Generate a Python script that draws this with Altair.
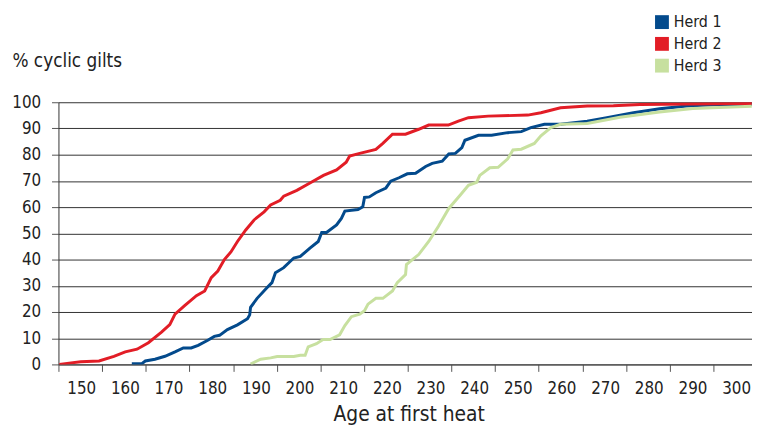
import altair as alt
import pandas as pd

herds = ["Herd 1", "Herd 2", "Herd 3"]
colors = ["#034a8c", "#e21d26", "#c7e09f"]

herd1_age = [166.8, 169.1, 169.9, 172.1, 174.4, 176.7, 178.6, 180.4, 182.0, 184.2, 185.7, 186.9,
             188.7, 191.0, 193.3, 193.8, 194.0, 195.5, 197.8, 198.9, 199.7, 201.6, 203.9, 205.4,
             207.6, 209.5, 210.3, 211.4, 213.7, 214.8, 215.6, 218.6, 219.7, 220.1, 221.2, 222.7,
             225.0, 226.1, 228.0, 229.9, 231.8, 234.1, 235.6, 237.9, 239.4, 240.9, 242.4, 243.1,
             246.2, 249.2, 252.9, 256.0, 258.2, 261.3, 265.0, 271.1, 275.6, 281.7, 287.7, 293.8,
             301.3, 308.8]
herd1_pct = [0.3, 0.3, 1.3, 2.0, 3.1, 4.8, 6.3, 6.3, 7.3, 9.2, 10.7, 11.1,
             13.3, 15.1, 17.4, 18.9, 21.8, 25.2, 29.3, 31.2, 35.0, 36.9, 40.6, 41.2,
             44.4, 46.9, 50.3, 50.3, 53.2, 55.7, 58.5, 59.1, 60.1, 63.7, 63.9, 65.5,
             67.3, 69.9, 71.2, 72.7, 72.9, 75.5, 76.7, 77.5, 80.3, 80.5, 82.7, 85.5,
             87.4, 87.4, 88.4, 88.8, 90.3, 91.6, 91.6, 92.8, 94.1, 96.0, 97.5, 98.6,
             99.1, 99.1]

herd2_age = [150.2, 152.0, 155.1, 159.3, 162.7, 165.3, 168.0, 170.6, 173.6, 175.5, 176.7, 178.9,
             181.6, 183.5, 185.0, 186.5, 188.0, 189.5, 191.0, 192.9, 194.8, 197.1, 198.6, 200.8,
             201.6, 204.6, 207.6, 210.7, 213.7, 215.9, 216.7, 219.0, 222.7, 224.3, 226.5, 229.5,
             232.5, 234.8, 239.3, 241.6, 243.9, 248.4, 257.5, 260.5, 265.0, 271.1, 277.1, 283.2,
             295.0, 308.8]
herd2_pct = [0.0, 0.4, 1.0, 1.3, 3.1, 4.8, 5.8, 8.3, 12.3, 15.2, 19.2, 22.4,
             26.2, 28.0, 33.1, 35.6, 40.0, 42.9, 46.9, 51.3, 55.1, 58.2, 60.8, 62.6,
             64.2, 66.4, 69.2, 72.1, 74.2, 77.1, 79.5, 80.5, 82.0, 84.3, 87.8, 87.8,
             89.7, 91.3, 91.3, 92.8, 94.1, 94.7, 95.1, 96.0, 97.9, 98.6, 98.7, 99.1,
             99.3, 99.5]

herd3_age = [194.0, 196.3, 198.6, 200.1, 203.9, 205.4, 206.5, 207.2, 209.1, 210.6, 212.2, 214.4,
             215.6, 217.1, 219.0, 220.1, 220.9, 222.7, 224.3, 226.5, 227.6, 229.5, 229.7, 232.5,
             234.8, 237.0, 239.4, 242.0, 243.9, 245.8, 246.5, 248.8, 250.7, 252.9, 254.1, 256.0,
             259.0, 260.5, 262.8, 265.0, 271.1, 278.6, 287.7, 295.3, 308.8]
herd3_pct = [0.1, 2.0, 2.5, 3.0, 3.0, 3.5, 3.5, 6.7, 7.9, 9.5, 9.5, 11.3,
             14.8, 18.2, 19.2, 20.5, 23.0, 25.2, 25.2, 28.0, 31.2, 34.3, 38.1, 41.9,
             46.9, 52.6, 59.5, 64.5, 68.3, 69.5, 72.1, 75.0, 75.2, 78.4, 81.8, 82.1,
             84.3, 87.2, 90.3, 91.6, 91.9, 94.3, 96.3, 97.6, 98.5]

x_ticks = list(range(150, 301, 10))
y_ticks = list(range(0, 101, 10))

rows = []
for name, ages, pcts in zip(herds, [herd1_age, herd2_age, herd3_age],
                            [herd1_pct, herd2_pct, herd3_pct]):
    for a, p in zip(ages, pcts):
        rows.append({"herd": name, "age": a, "pct": p})
df = pd.DataFrame(rows)

FONT = "DejaVu Sans Condensed"

chart = alt.Chart(df).mark_line(strokeWidth=3, clip=True).encode(
    x=alt.X("age:Q",
            scale=alt.Scale(domain=[150, 308.85], nice=False, zero=False),
            axis=alt.Axis(values=x_ticks, title="Age at first heat", grid=False,
                          labelOffset=23, tickSize=7, tickColor="#555", domainColor="#444",
                          labelPadding=9, labelFontSize=17, labelFont=FONT, labelColor="#222",
                          titleFont=FONT, titleFontSize=21, titleFontWeight="normal",
                          titleColor="#222", titleX=354, titleY=57,
                          titleBaseline="alphabetic", titleAlign="center",
                          labelOverlap=False, labelFlush=False)),
    y=alt.Y("pct:Q",
            scale=alt.Scale(domain=[0, 100], nice=False),
            axis=alt.Axis(values=y_ticks, title="% cyclic gilts", grid=True,
                          gridColor="#333", gridWidth=1, tickSize=7, tickColor="#555",
                          domainColor="#333", labelPadding=11, labelFontSize=17,
                          labelFont=FONT, labelColor="#222",
                          titleFont=FONT, titleFontSize=19, titleFontWeight="normal",
                          titleColor="#222", titleAngle=0, titleX=-47, titleY=-36,
                          titleAlign="left", titleBaseline="alphabetic")),
    color=alt.Color("herd:N",
                    scale=alt.Scale(domain=herds, range=colors),
                    legend=alt.Legend(title=None, orient="none", legendX=602, legendY=-89,
                                      symbolType="square", symbolSize=196,
                                      symbolStrokeWidth=0,
                                      symbolFillColor={"expr": "scale('color', datum.value)"},
                                      symbolOpacity=1,
                                      labelFont=FONT, labelFontSize=16,
                                      labelColor="#222", labelOffset=4, rowPadding=6,
                                      padding=0)),
).properties(
    width=701, height=265,
    autosize=alt.AutoSizeParams(type="none"),
    padding={"left": 51, "top": 93, "right": 0, "bottom": 62},
).configure_view(stroke=None)

chart.save("out.html", embed_options={"renderer": "svg", "actions": False})
